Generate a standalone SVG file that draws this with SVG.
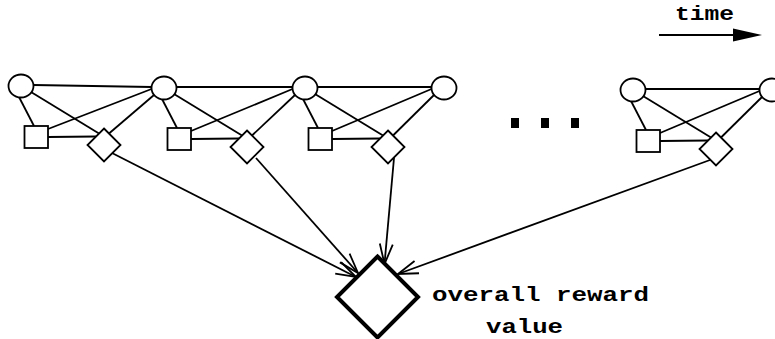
<svg xmlns="http://www.w3.org/2000/svg" width="775" height="339" viewBox="0 0 775 339">
  <style>
    .edge { stroke: #000; stroke-width: 1.8; fill: none; }
    .flow { stroke: #000; stroke-width: 1.8; fill: none; marker-end: url(#open); }
    .state { fill: #fff; stroke: #000; stroke-width: 1.8; }
    .act { fill: #fff; stroke: #000; stroke-width: 1.8; }
    .rew { fill: #fff; stroke: #000; stroke-width: 1.8; }
    .total { fill: #fff; stroke: #000; stroke-width: 4; stroke-linejoin: miter; }
    .lbl { font-family: "Liberation Mono", "DejaVu Sans Mono", monospace; font-weight: bold; font-size: 20px; fill: #000; }
  </style>
  <defs>
    <marker id="open" markerUnits="userSpaceOnUse" markerWidth="24" markerHeight="16" refX="21" refY="8" orient="auto">
      <path d="M1,1.5 L21,8 L1,14.5" fill="none" stroke="#000" stroke-width="1.8"/>
    </marker>
  </defs>

  <!-- time axis -->
  <g id="time-axis">
    <text class="lbl" x="675" y="20" textLength="59" lengthAdjust="spacingAndGlyphs">time</text>
    <line x1="659" y1="35" x2="736" y2="35" stroke="#000" stroke-width="1.8"/>
    <polygon points="733,28.5 762,35 733,41.5" fill="#000"/>
  </g>

  <!-- connectors -->
  <g id="connectors">
    <!-- slice 1 -->
    <line class="edge" x1="33.5" y1="85" x2="151.5" y2="87"/>
    <line class="edge" x1="19" y1="97" x2="34" y2="126"/>
    <line class="edge" x1="31" y1="92" x2="99" y2="133.5"/>
    <line class="edge" x1="151.5" y1="89" x2="48" y2="129"/>
    <line class="edge" x1="154" y1="95" x2="109" y2="133.5"/>
    <line class="edge" x1="48" y1="137" x2="96" y2="136.5"/>
    <!-- slice 2 -->
    <line class="edge" x1="176.5" y1="87" x2="292.5" y2="87"/>
    <line class="edge" x1="162" y1="99" x2="177" y2="128"/>
    <line class="edge" x1="174" y1="94" x2="242" y2="135.5"/>
    <line class="edge" x1="292.5" y1="89" x2="191" y2="131"/>
    <line class="edge" x1="295" y1="95" x2="252" y2="135.5"/>
    <line class="edge" x1="191" y1="139" x2="239" y2="138.5"/>
    <!-- slice 3 -->
    <line class="edge" x1="317.5" y1="87" x2="431.5" y2="87"/>
    <line class="edge" x1="303" y1="99" x2="318" y2="128"/>
    <line class="edge" x1="315" y1="94" x2="383" y2="135.5"/>
    <line class="edge" x1="431.5" y1="89" x2="332" y2="131"/>
    <line class="edge" x1="434" y1="95" x2="393" y2="135.5"/>
    <line class="edge" x1="332" y1="139" x2="380" y2="138.5"/>
    <!-- last slice -->
    <line class="edge" x1="645.5" y1="89" x2="759.5" y2="89"/>
    <line class="edge" x1="631" y1="101" x2="646" y2="130"/>
    <line class="edge" x1="643" y1="96" x2="711" y2="137.5"/>
    <line class="edge" x1="759.5" y1="91" x2="660" y2="133"/>
    <line class="edge" x1="762" y1="97" x2="721" y2="137.5"/>
    <line class="edge" x1="660" y1="141" x2="708" y2="140.5"/>
    <!-- rewards into the overall value -->
    <line class="flow" x1="112" y1="153" x2="356" y2="277"/>
    <line class="flow" x1="256" y1="158" x2="358" y2="273"/>
    <line class="flow" x1="394" y1="158" x2="384.5" y2="264"/>
    <line class="flow" x1="710" y1="160" x2="398" y2="274"/>
  </g>

  <!-- slice 1 -->
  <g id="s1"><ellipse class="state" cx="21" cy="86" rx="12.5" ry="11.5"/></g>
  <g id="a1"><rect class="act" x="24.5" y="126" width="23.5" height="22"/></g>
  <g id="r1"><polygon class="rew" points="104,128.5 120.5,145 104,161.5 87.5,145"/></g>
  <!-- slice 2 -->
  <g id="s2"><ellipse class="state" cx="164" cy="88" rx="12.5" ry="11.5"/></g>
  <g id="a2"><rect class="act" x="167.5" y="128" width="23.5" height="22"/></g>
  <g id="r2"><polygon class="rew" points="247,130.5 263.5,147 247,163.5 230.5,147"/></g>
  <!-- slice 3 -->
  <g id="s3"><ellipse class="state" cx="305" cy="88" rx="12.5" ry="11.5"/></g>
  <g id="a3"><rect class="act" x="308.5" y="128" width="23.5" height="22"/></g>
  <g id="r3"><polygon class="rew" points="388,130.5 404.5,147 388,163.5 371.5,147"/></g>
  <g id="s4"><ellipse class="state" cx="444" cy="88" rx="12.5" ry="11.5"/></g>

  <!-- ellipsis -->
  <g id="ellipsis" fill="#000">
    <rect x="511" y="118" width="8" height="10"/>
    <rect x="541" y="118" width="8" height="10"/>
    <rect x="571" y="118" width="8" height="10"/>
  </g>

  <!-- last slice -->
  <g id="sn"><ellipse class="state" cx="633" cy="90" rx="12.5" ry="11.5"/></g>
  <g id="an"><rect class="act" x="636.5" y="130" width="23.5" height="22"/></g>
  <g id="rn"><polygon class="rew" points="716,132.5 732.5,149 716,165.5 699.5,149"/></g>
  <g id="sn1"><ellipse class="state" cx="772" cy="90" rx="12.5" ry="11.5"/></g>

  <!-- overall reward value -->
  <g id="total">
    <polygon class="total" points="377.5,256.5 418,297 377.5,337.5 337,297"/>
    <text class="lbl" x="432" y="301" textLength="217" lengthAdjust="spacingAndGlyphs">overall reward</text>
    <text class="lbl" x="486" y="333" textLength="77" lengthAdjust="spacingAndGlyphs">value</text>
  </g>
</svg>
